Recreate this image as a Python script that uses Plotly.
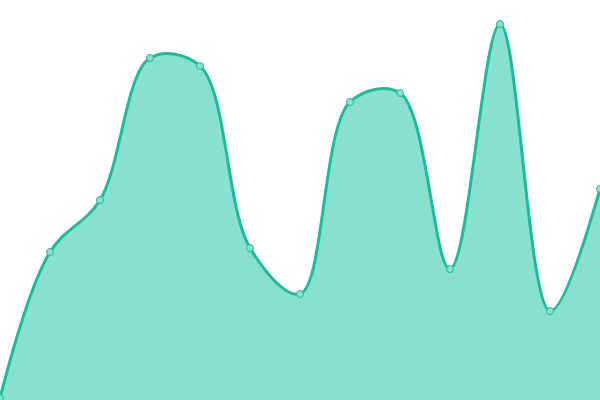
import plotly.graph_objects as go

# values (0 = bottom edge, 400 = top edge)
x_idx = list(range(13))
values = [2, 148, 200, 342, 334, 152, 106, 298, 307, 131, 376, 89, 211]

LINE = "#1abc9c"
FILL = "#8ae0cf"

fig = go.Figure()
fig.add_trace(go.Scatter(
    x=x_idx, y=values,
    mode="lines+markers",
    line=dict(color=LINE, width=3, shape="spline", smoothing=1.0),
    fill="tozeroy", fillcolor=FILL,
    marker=dict(size=7, color=FILL, line=dict(color=LINE, width=1)),
    hoverinfo="skip",
))

fig.update_layout(
    width=600, height=400,
    margin=dict(l=0, r=0, t=0, b=0),
    paper_bgcolor="white", plot_bgcolor="white",
    showlegend=False,
)
fig.update_xaxes(visible=False, range=[0, 12])
fig.update_yaxes(visible=False, range=[0, 400])

# drop the page's default body margin so the plot sits flush in the window
fig.write_html(
    "out.html",
    config={"displayModeBar": False},
    post_script="document.body.style.margin='0';document.body.style.overflow='hidden';",
)
